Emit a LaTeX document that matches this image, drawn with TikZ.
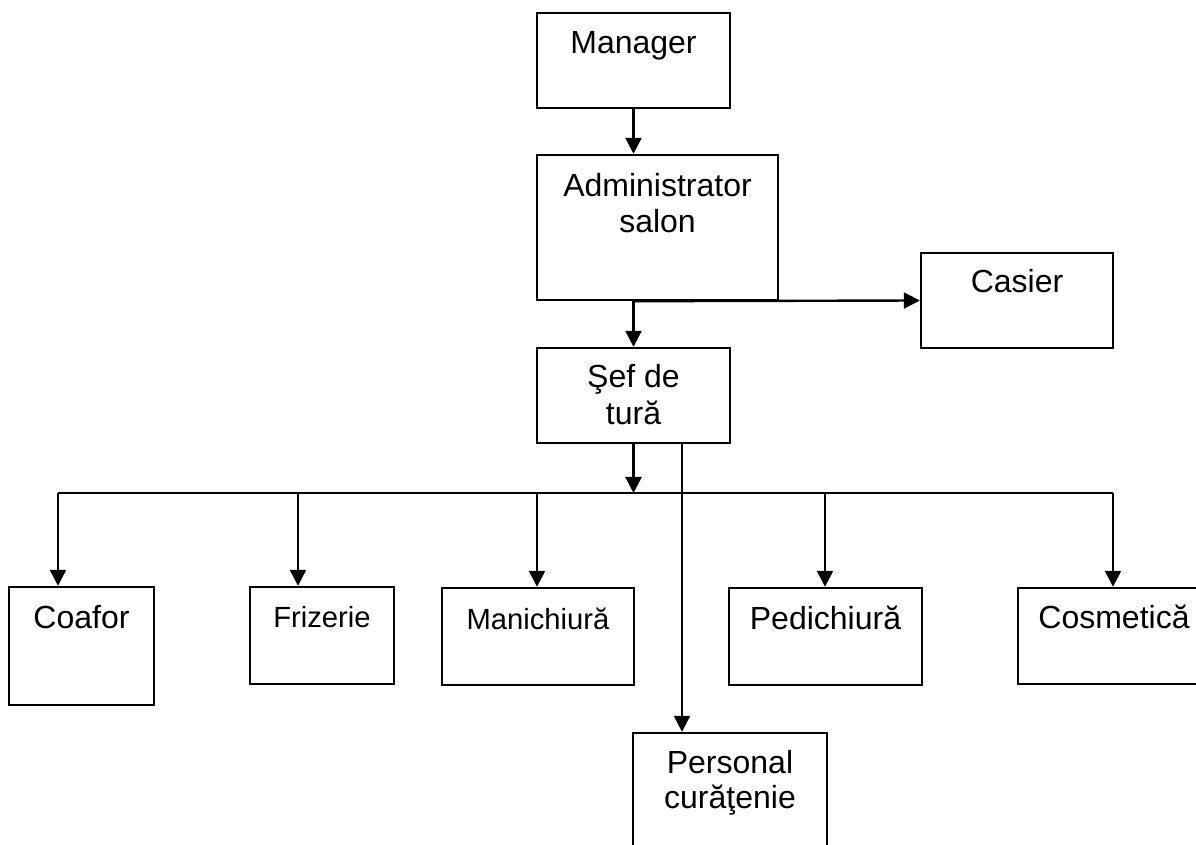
\documentclass[tikz,border=0pt]{standalone}
\usepackage{fontspec}
\setmainfont{Liberation Sans}
\usetikzlibrary{arrows.meta}
\begin{document}
\begin{tikzpicture}[x=0.5pt,y=-0.5pt,
  box/.style={draw, line width=1.2pt, inner sep=0pt},
  lbl/.style={anchor=base, inner sep=0pt, font=\fontsize{16}{19}\selectfont},
  lblsmall/.style={anchor=base, inner sep=0pt, font=\fontsize{14.6}{17.5}\selectfont},
  link/.style={line width=1.2pt},
  arrowlink/.style={line width=1.2pt, -{Triangle[length=8pt,width=8pt]}}]
\useasboundingbox (0,0) rectangle (1196,845);

% boxes
\node[box, minimum width=96.5pt, minimum height=47.5pt] (mgr) at (633.5,60.5) {};
\node[box, minimum width=120.5pt, minimum height=72.5pt] (adm) at (657.5,227.5) {};
\node[box, minimum width=96pt, minimum height=47.5pt] (cas) at (1017,300.5) {};
\node[box, minimum width=96.5pt, minimum height=47.5pt] (sef) at (633.5,395.5) {};
\node[box, minimum width=72.5pt, minimum height=59pt] (coa) at (81.5,646) {};
\node[box, minimum width=72pt, minimum height=48.5pt] (fri) at (322,635.5) {};
\node[box, minimum width=96pt, minimum height=48.5pt] (man) at (538,636.5) {};
\node[box, minimum width=96.5pt, minimum height=48.5pt] (ped) at (825.5,636.5) {};
\node[box, minimum width=96pt, minimum height=48pt] (cos) at (1114,636) {};
\node[box, minimum width=97pt, minimum height=73.5pt] (per) at (730,806.5) {};

% labels
\node[lbl] (mgr-t) at (633.5,54) {Manager};
\node[lbl] (adm-t1) at (657.5,197) {Administrator};
\node[lbl] (adm-t2) at (657.5,233) {salon};
\node[lbl] (cas-t) at (1017,293) {Casier};
\node[lbl] (sef-t1) at (633.5,388) {Şef de};
\node[lbl] (sef-t2) at (633.5,425) {tură};
\node[lbl] (coa-t) at (81.5,629) {Coafor};
\node[lblsmall] (fri-t) at (322,627) {Frizerie};
\node[lblsmall] (man-t) at (538,630) {Manichiură};
\node[lbl] (ped-t) at (825.5,630) {Pedichiură};
\node[lbl] (cos-t) at (1114,629) {Cosmetică};
\node[lbl] (per-t1) at (730,773) {Personal};
\node[lbl] (per-t2) at (730,808) {curăţenie};

% junction points
\coordinate (busL) at (58,493);
\coordinate (busR) at (1113,493);
\coordinate (d2) at (298,493);
\coordinate (d3) at (537,493);
\coordinate (d4) at (825,493);
\coordinate (pc) at (682,443);

% connectors
\draw[arrowlink] (mgr.south) -- (mgr.south |- adm.north);
\draw[arrowlink] (sef.north |- adm.south) -- (sef.north);
\draw[arrowlink] (sef.north |- adm.south) -- (cas.west);
\draw[arrowlink] (sef.south) -- (sef.south |- busL);
\draw[link] (busL) -- (busR);
\draw[arrowlink] (busL) -- (busL |- coa.north);
\draw[arrowlink] (d2) -- (d2 |- fri.north);
\draw[arrowlink] (d3) -- (d3 |- man.north);
\draw[arrowlink] (d4) -- (d4 |- ped.north);
\draw[arrowlink] (busR) -- (busR |- cos.north);
\draw[arrowlink] (pc) -- (pc |- per.north);
\end{tikzpicture}
\end{document}
